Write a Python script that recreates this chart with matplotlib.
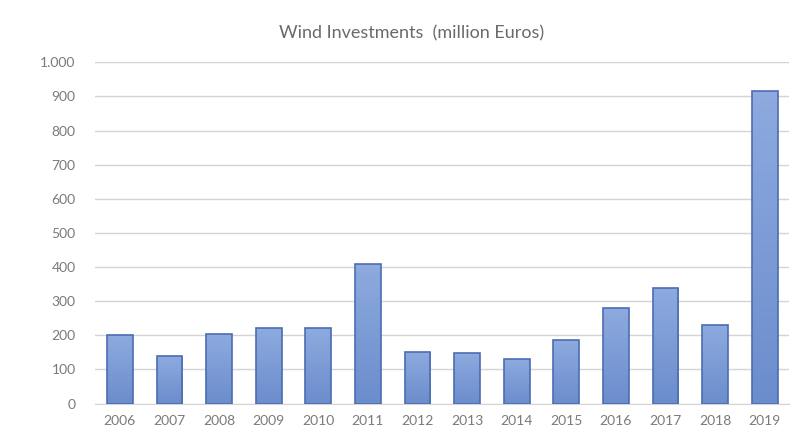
import numpy as np
import matplotlib
matplotlib.use("Agg")
import matplotlib.pyplot as plt
from matplotlib.colors import LinearSegmentedColormap
from matplotlib.ticker import FuncFormatter

years = ["2006", "2007", "2008", "2009", "2010", "2011", "2012",
         "2013", "2014", "2015", "2016", "2017", "2018", "2019"]
investments = [202, 140, 203, 221, 221, 410, 151, 147, 131, 187, 280, 338, 230, 917]
y_ticks = [0, 100, 200, 300, 400, 500, 600, 700, 800, 900, 1000]

title = "Wind Investments  (million Euros)"

plt.rcParams['font.family'] = ['Lato', 'DejaVu Sans']
text_color = "#7a7a7a"

fig = plt.figure(figsize=(7.95, 4.36), dpi=100)
ax = fig.add_axes([0.1195, 0.0745, 0.8735, 0.7825])

x = np.arange(len(years))
bars = ax.bar(x, investments, width=0.52, color="none",
              edgecolor="#4a6db3", linewidth=1.2, zorder=3)

# vertical gradient fill for each bar, lighter at the top
grad = LinearSegmentedColormap.from_list("bar_grad", ["#6b8dcc", "#8eaadf"])
gradient = np.linspace(0, 1, 256).reshape(-1, 1)
for rect in bars:
    x0, y0 = rect.get_x(), rect.get_y()
    w, h = rect.get_width(), rect.get_height()
    im = ax.imshow(gradient, cmap=grad, origin="lower", aspect="auto",
                   extent=(x0, x0 + w, y0, y0 + h), zorder=2)
    im.set_clip_path(rect)

ax.set_xlim(-0.5, len(years) - 0.5)
ax.set_ylim(0, 1000)
ax.set_yticks(y_ticks)
ax.yaxis.set_major_formatter(FuncFormatter(lambda v, _: f"{int(v):,}".replace(",", ".")))
ax.set_xticks(x)
ax.set_xticklabels(years)

ax.grid(axis="y", color="#d4d4d4", linewidth=1.0, zorder=0)
ax.set_axisbelow(True)
for side in ["top", "right", "left"]:
    ax.spines[side].set_visible(False)
ax.spines["bottom"].set_color("#d4d4d4")
ax.tick_params(axis="both", length=0, labelsize=10, colors=text_color, pad=8)
ax.tick_params(axis="y", pad=14)

fig.text(0.518, 0.923, title, ha="center", va="center", fontsize=13, color="#6a6a6a")

fig.savefig("out.png", dpi=100)
